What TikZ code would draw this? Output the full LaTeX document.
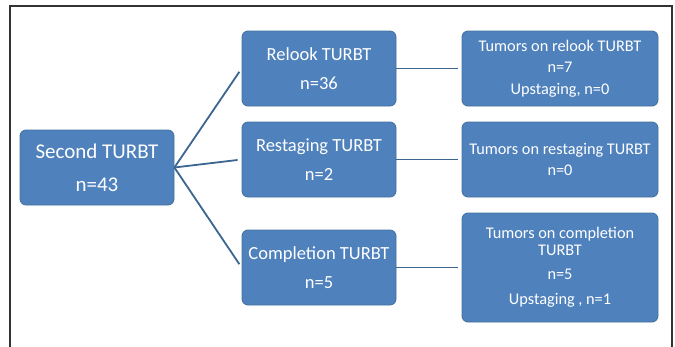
\documentclass[tikz,border=0pt]{standalone}
\usepackage{fontspec}
\setmainfont{Carlito}
\definecolor{boxfill}{HTML}{4F81BD}
\definecolor{boxline}{HTML}{41719C}
\definecolor{linkcol}{HTML}{3C6591}
\definecolor{framecol}{HTML}{333333}
\begin{document}
\begin{tikzpicture}[x=1pt,y=-1pt,
  bluebox/.style={draw=boxline, fill=boxfill, line width=0.8pt, rounded corners=6pt,
    text=white, align=center, inner sep=0pt, minimum height=75pt},
  midbox/.style={bluebox, minimum width=154pt,
    font=\fontsize{18.5}{29}\selectfont},
  tumorbox/.style={bluebox, minimum width=196pt,
    font=\fontsize{16.3}{21.5}\selectfont},
  link/.style={draw=linkcol, line width=1.8pt}]
  \useasboundingbox (0,0) rectangle (675,346);

  % outer frame, open at the bottom edge
  \draw[framecol, line width=1.3pt] (10,352) -- (10,6) -- (672,6) -- (672,352);

  % root box
  \node[bluebox, minimum width=154pt, font=\fontsize{21}{33}\selectfont]
    (second) at (97,167.5) {Second TURBT\\n=43};

  % procedure boxes
  \node[midbox] (relook)     at (319,68.5)  {Relook TURBT\\n=36};
  \node[midbox] (restaging)  at (319,159.5) {Restaging TURBT\\n=2};
  \node[midbox] (completion) at (319,267.5) {Completion TURBT\\n=5};

  % outcome boxes
  \node[tumorbox] (trelook) at (560,68.5)
    {Tumors on relook TURBT\\n=7\\Upstaging, n=0};
  \node[tumorbox] (trestaging) at (560,159.5)
    {Tumors on restaging TURBT\\n=0};
  \node[tumorbox, minimum height=109pt, font=\fontsize{16.3}{17}\selectfont]
    (tcompletion) at (560,267.5)
    {Tumors on completion\\TURBT\\[7pt]n=5\\[8pt]Upstaging , n=1};

  % fan-out from the root
  \draw[link, shorten >=4pt] (second.east) -- (relook.west);
  \draw[link, shorten >=4pt] (second.east) -- (restaging.west);
  \draw[link, shorten >=4pt] (second.east) -- (completion.west);

  % procedure to outcome
  \draw[link, shorten >=4pt] (relook.east) -- (trelook.west);
  \draw[link, shorten >=4pt] (restaging.east) -- (trestaging.west);
  \draw[link, shorten >=4pt] (completion.east) -- (tcompletion.west);
\end{tikzpicture}
\end{document}
